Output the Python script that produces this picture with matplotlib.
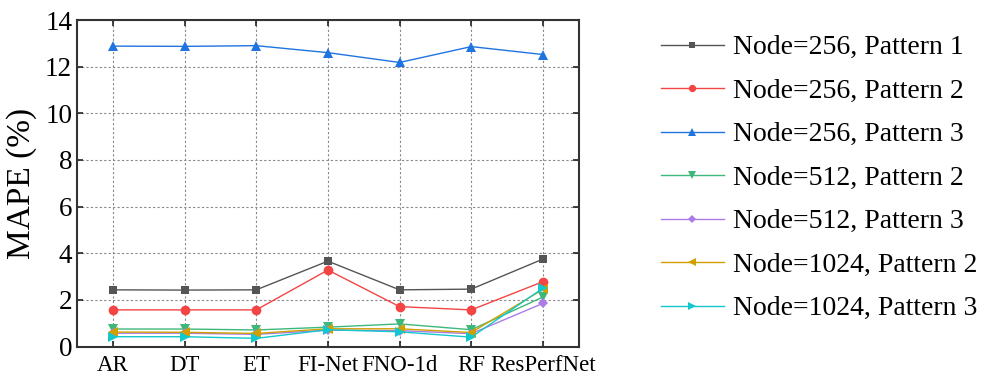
import matplotlib
matplotlib.use("Agg")
import matplotlib.pyplot as plt

plt.rcParams['font.family'] = ['Liberation Serif', 'DejaVu Serif']

models = ["AR", "DT", "ET", "FI-Net", "FNO-1d", "RF", "ResPerfNet"]

n256_p1 = [2.43, 2.42, 2.43, 3.66, 2.43, 2.46, 3.75]
n256_p2 = [1.57, 1.57, 1.57, 3.28, 1.71, 1.57, 2.78]
n256_p3 = [12.88, 12.87, 12.90, 12.60, 12.18, 12.86, 12.52]
n512_p2 = [0.75, 0.75, 0.71, 0.83, 0.97, 0.72, 2.12]
n512_p3 = [0.57, 0.57, 0.52, 0.70, 0.68, 0.55, 1.85]
n1024_p2 = [0.62, 0.61, 0.56, 0.76, 0.76, 0.60, 2.45]
n1024_p3 = [0.42, 0.42, 0.35, 0.72, 0.63, 0.40, 2.50]

labels = ["Node=256, Pattern 1", "Node=256, Pattern 2", "Node=256, Pattern 3",
          "Node=512, Pattern 2", "Node=512, Pattern 3",
          "Node=1024, Pattern 2", "Node=1024, Pattern 3"]
series = [n256_p1, n256_p2, n256_p3, n512_p2, n512_p3, n1024_p2, n1024_p3]
colors = ["#555555", "#f44545", "#1f74e0", "#3db87a", "#a97ce6", "#d1a000", "#12c8cc"]
markers = ["s", "o", "^", "v", "D", "<", ">"]
msizes = [6, 7, 7, 7, 5.5, 7, 7]

fig = plt.figure(figsize=(9.81, 3.74), dpi=100)
ax = fig.add_axes([0.0785, 0.0735, 0.5115, 0.873])

x = list(range(len(models)))
for s, lab, c, m, ms in zip(series, labels, colors, markers, msizes):
    ax.plot(x, s, color=c, marker=m, markersize=ms, linewidth=1.0, label=lab,
            markeredgewidth=0)

ax.set_xlim(-0.5, 6.5)
ax.set_ylim(0, 14)
ax.set_yticks([0, 2, 4, 6, 8, 10, 12, 14])
ax.set_xticks(x)
ax.set_xticklabels(models, fontsize=16.5)
ax.tick_params(axis='y', labelsize=19.5)
ax.tick_params(direction='in', top=True, right=True, length=4, width=1.2, color='#222222')
ax.tick_params(axis='x', pad=6)
ax.set_ylabel("MAPE (%)", fontsize=24, labelpad=6)
ax.grid(True, linestyle=(0, (2, 2)), color='#888888', linewidth=0.8)
ax.set_axisbelow(True)
for sp in ax.spines.values():
    sp.set_linewidth(1.5)
    sp.set_color('#333333')

handles, labs = ax.get_legend_handles_labels()
leg = fig.legend(handles, labs, loc='center left', bbox_to_anchor=(0.674, 0.524),
                 frameon=False, fontsize=20, handlelength=2.25, handletextpad=0.33,
                 labelspacing=0.65, borderpad=0, borderaxespad=0, markerscale=0.75)

fig.savefig("out.png", dpi=100)
